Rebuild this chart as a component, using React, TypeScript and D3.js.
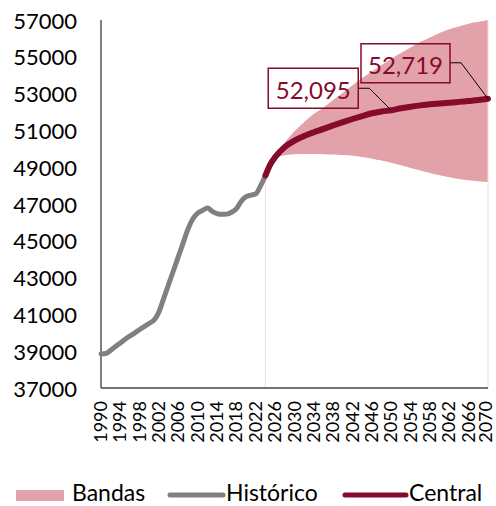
import React from "react";
import * as d3 from "d3";

const histYears = [1990,1991,1992,1993,1994,1995,1996,1997,1998,1999,2000,2001,2002,2003,2004,2005,2006,2007,2008,2009,2010,2011,2012,2013,2014,2015,2016,2017,2018,2019,2020,2021,2022,2023,2024];
const histValues = [38850,38870,39050,39250,39450,39650,39830,40000,40180,40350,40520,40700,41150,41900,42650,43400,44150,44900,45650,46200,46500,46650,46780,46600,46480,46440,46450,46550,46750,47150,47400,47480,47550,48000,48550];

const projYears = [2024,2025,2026,2028,2030,2032,2034,2036,2038,2040,2042,2044,2046,2048,2050,2052,2054,2056,2058,2060,2062,2064,2066,2068,2070];
const centralValues = [48550,49150,49550,50100,50450,50700,50900,51080,51270,51450,51620,51780,51930,52030,52095,52200,52290,52360,52420,52460,52500,52550,52600,52650,52719];
const bandLower = [48550,49200,49500,49650,49700,49720,49720,49710,49690,49660,49620,49550,49460,49360,49240,49100,48960,48820,48680,48560,48450,48360,48290,48240,48200];
const bandUpper = [48550,49300,49650,50350,50950,51450,51900,52250,52650,53050,53450,53850,54200,54550,54900,55200,55500,55800,56050,56300,56500,56650,56800,56900,57000];

const yTicks = [37000,39000,41000,43000,45000,47000,49000,51000,53000,55000,57000];
const xTickYears = [1990,1994,1998,2002,2006,2010,2014,2018,2022,2026,2030,2034,2038,2042,2046,2050,2054,2058,2062,2066,2070];

const annotations = [
  { year: 2050, value: 52095, label: "52,095" },
  { year: 2070, value: 52719, label: "52,719" },
];

const legendLabels = ["Bandas", "Histórico", "Central"];

const COL_BAND = "#e3a1a9";
const COL_HIST = "#808080";
const COL_CENTRAL = "#850a2b";
const FONT = "Lato, 'Noto Sans', sans-serif";

export default function App() {
  const W = 496, H = 506;
  const x = d3.scaleLinear().domain([1990, 2070]).range([101, 488]);
  const y = d3.scaleLinear().domain([37000, 57000]).range([388, 20]);
  const xLabelFont = 18;

  const hist = histYears.map((yr, i) => ({ yr, v: histValues[i] }));
  const proj = projYears.map((yr, i) => ({ yr, c: centralValues[i], lo: bandLower[i], hi: bandUpper[i] }));

  const line = d3.line<{ yr: number; v: number }>().x(d => x(d.yr)).y(d => y(d.v)).curve(d3.curveMonotoneX);
  const cline = d3.line<typeof proj[0]>().x(d => x(d.yr)).y(d => y(d.c)).curve(d3.curveMonotoneX);
  const area = d3.area<typeof proj[0]>().x(d => x(d.yr)).y0(d => y(d.lo)).y1(d => y(d.hi)).curve(d3.curveMonotoneX);

  const first = proj[0], last = proj[proj.length - 1];

  const ann = annotations.map((a, i) => {
    const px = x(a.year), py = y(a.value);
    if (i === 0) {
      const bx = px - 123, by = py - 42, bw = 90, bh = 40;
      return { ...a, px, py, bx, by, bw, bh, path: `M${bx + bw},${by + 20}H${bx + bw + 11}L${px},${py}` };
    } else {
      const bx = px - 127, by = py - 55, bw = 89, bh = 39;
      return { ...a, px, py, bx, by, bw, bh, path: `M${bx + bw},${by + 19}H${bx + bw + 11}L${px},${py}` };
    }
  });

  return (
    <svg width={W} height={H} style={{ position: "absolute", left: 0, top: 0 }} fontFamily={FONT}>
      <rect width={W} height={H} fill="#fff" />
      <path d={area(proj) || ""} fill={COL_BAND} />
      <line x1={x(first.yr)} x2={x(first.yr)} y1={y(first.lo)} y2={y(37000)} stroke="#f6dde2" strokeWidth={1} />
      <line x1={x(last.yr)} x2={x(last.yr)} y1={y(last.hi)} y2={y(37000)} stroke="#f6dde2" strokeWidth={1} />
      <line x1={x(1990)} x2={x(1990)} y1={y(57000)} y2={y(37000)} stroke="#000" strokeWidth={1} />
      <line x1={x(1990)} x2={x(2070)} y1={y(37000)} y2={y(37000)} stroke="#444" strokeWidth={1.5} />
      {yTicks.map(t => (
        <text key={t} x={77} y={y(t)} textAnchor="end" dominantBaseline="central" fontSize={22} fill="#000">{t}</text>
      ))}
      {xTickYears.map(t => (
        <text key={t} transform={`translate(${Math.min(x(t) - 1, W - xLabelFont * 0.62)},401) rotate(-90)`} textAnchor="end" dominantBaseline="central" fontSize={xLabelFont} fill="#000">{t}</text>
      ))}
      <path d={line(hist) || ""} fill="none" stroke={COL_HIST} strokeWidth={5} strokeLinejoin="round" strokeLinecap="round" />
      <path d={cline(proj) || ""} fill="none" stroke={COL_CENTRAL} strokeWidth={6} strokeLinejoin="round" strokeLinecap="round" />
      {ann.map(a => (
        <g key={a.label}>
          <path d={a.path} fill="none" stroke="#000" strokeWidth={1} />
          <rect x={a.bx} y={a.by} width={a.bw} height={a.bh} fill="none" stroke={COL_CENTRAL} strokeWidth={1.5} />
          <text x={a.bx + a.bw / 2} y={a.by + a.bh / 2 + 1} textAnchor="middle" dominantBaseline="central" fontSize={24} fill={COL_CENTRAL}>{a.label}</text>
        </g>
      ))}
      <rect x={16} y={490} width={48} height={11} fill={COL_BAND} />
      <text x={72} y={492} dominantBaseline="central" fontSize={23} fill="#000">{legendLabels[0]}</text>
      <line x1={170} x2={223} y1={495} y2={495} stroke={COL_HIST} strokeWidth={5} strokeLinecap="round" />
      <text x={226} y={492} dominantBaseline="central" fontSize={23} fill="#000">{legendLabels[1]}</text>
      <line x1={345} x2={406} y1={495} y2={495} stroke={COL_CENTRAL} strokeWidth={5} strokeLinecap="round" />
      <text x={409} y={492} dominantBaseline="central" fontSize={23} fill="#000">{legendLabels[2]}</text>
    </svg>
  );
}
